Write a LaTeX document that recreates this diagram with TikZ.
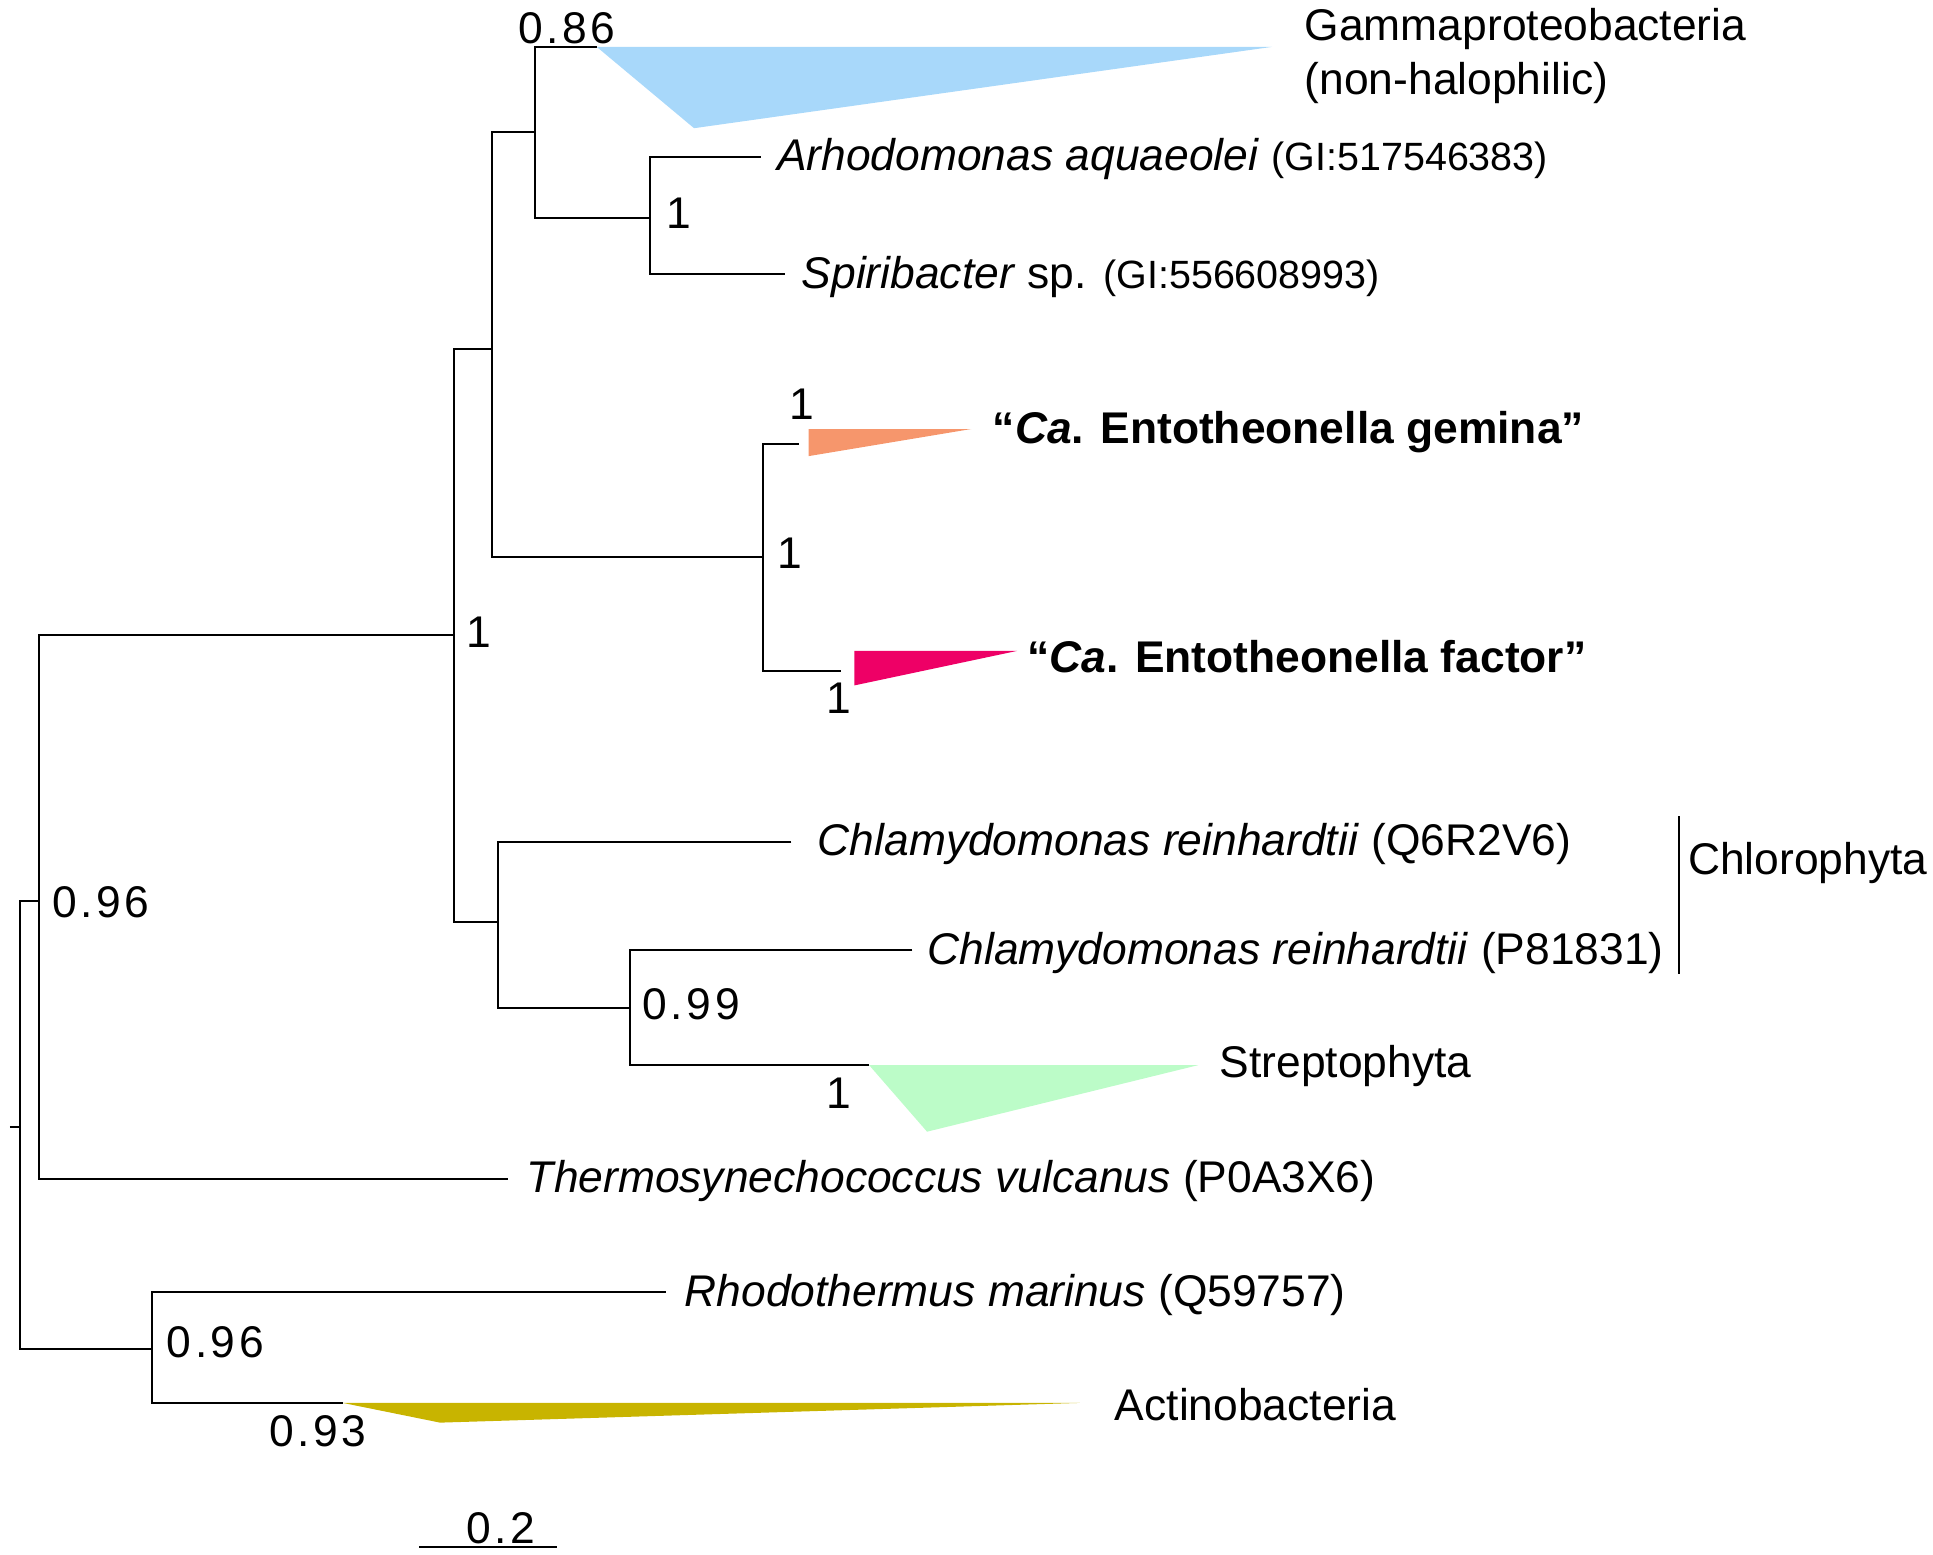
\documentclass[tikz,border=0pt]{standalone}
\usepackage{fontspec}
\setmainfont{Liberation Sans}
\newfontfamily\numfont[LetterSpace=8]{Liberation Sans}
\definecolor{gammablue}{RGB}{168,216,250}
\definecolor{gemorange}{RGB}{246,150,108}
\definecolor{facmagenta}{RGB}{238,0,102}
\definecolor{strepgreen}{RGB}{188,252,200}
\definecolor{actolive}{RGB}{200,180,0}
\begin{document}
\begin{tikzpicture}[x=0.5pt,y=-0.5pt,
  branch/.style={line width=0.8pt},
  lab/.style={anchor=west,inner sep=0pt,yshift=-1.2pt,font=\fontsize{18}{22}\selectfont},
  num/.style={anchor=west,inner sep=0pt,font=\fontsize{18}{22}\selectfont\numfont}]
\useasboundingbox (0,0) rectangle (1568,1261);
% tree coordinates
\coordinate (r0) at (8,914);
\coordinate (r) at (16,914);
\coordinate (A) at (32,731);
\coordinate (I) at (123,1094);
\coordinate (B) at (368,515);
\coordinate (T) at (412,956);
\coordinate (C) at (399,283);
\coordinate (G) at (404,748);
\coordinate (D) at (434,107);
\coordinate (F) at (619,452);
\coordinate (gam) at (484,38);
\coordinate (E) at (527,177);
\coordinate (arho) at (617,127);
\coordinate (spir) at (637,222);
\coordinate (gem) at (648,360);
\coordinate (fac) at (682,544);
\coordinate (chlQ) at (642,683);
\coordinate (H) at (511,818);
\coordinate (chlP) at (740,771);
\coordinate (strep) at (705,864);
\coordinate (rho) at (540,1048);
\coordinate (act) at (278,1138);
% collapsed clades
\fill[gammablue] (gam) -- (1032,38) -- (563,104) -- cycle;
\fill[gemorange] (656,348) -- (788,348) -- (656,370) -- cycle;
\fill[facmagenta] (693,528) -- (825,528) -- (693,556) -- cycle;
\fill[strepgreen] (strep) -- (972,864) -- (752,918) -- cycle;
\fill[actolive] (act) -- (876,1138) -- (357,1154) -- cycle;
% branches
\draw[branch] (r0) -- (r);
\draw[branch] (A) -| (r) |- (I);
\draw[branch] (B) -| (A) |- (T);
\draw[branch] (rho) -| (I) |- (act);
\draw[branch] (C) -| (B) |- (G);
\draw[branch] (D) -| (C) |- (F);
\draw[branch] (gam) -| (D) |- (E);
\draw[branch] (arho) -| (E) |- (spir);
\draw[branch] (gem) -| (F) |- (fac);
\draw[branch] (chlQ) -| (G) |- (H);
\draw[branch] (chlP) -| (H) |- (strep);
% support values
\node[num] (s086) at (420,23) {0.86};
\node[num] (sE) at (540,173) {1};
\node[num] (sGem) at (640,328) {1};
\node[num] (sF) at (630,449) {1};
\node[num] (sB) at (378,513) {1};
\node[num] (sFac) at (670,566) {1};
\node[num] (s099) at (521,815) {0.99};
\node[num] (sStrep) at (670,887) {1};
\node[num] (sA) at (42,732) {0.96};
\node[num] (sI) at (135,1089) {0.96};
\node[num] (s093) at (218,1161) {0.93};
% taxon labels
\node[lab,anchor=north west,align=left] (gamtxt) at (1058,4) {Gammaproteobacteria\\(non-halophilic)};
\node[lab] (arhotxt) at (630,127) {\textit{Arhodomonas aquaeolei} {\fontsize{16}{20}\selectfont(GI:517546383)}};
\node[lab] (spirtxt) at (650,222) {\textit{Spiribacter} sp. {\fontsize{16}{20}\selectfont(GI:556608993)}};
\node[lab] (gemtxt) at (805,348) {\bfseries “\textit{Ca}. Entotheonella gemina”};
\node[lab] (factxt) at (833,530) {\bfseries “\textit{Ca}. Entotheonella factor”};
\node[lab] (chlQtxt) at (663,682) {\textit{Chlamydomonas reinhardtii} (Q6R2V6)};
\node[lab] (chlPtxt) at (752,771) {\textit{Chlamydomonas reinhardtii} (P81831)};
\node[lab] (streptxt) at (989,862) {Streptophyta};
\node[lab] (thermtxt) at (427,956) {\textit{Thermosynechococcus vulcanus} (P0A3X6)};
\node[lab] (rhotxt) at (555,1048) {\textit{Rhodothermus marinus} (Q59757)};
\node[lab] (acttxt) at (904,1137) {Actinobacteria};
% Chlorophyta bracket
\coordinate (chl1) at (1362,662);
\coordinate (chl2) at (1362,790);
\draw[line width=0.6pt] (chl1) -- (chl2);
\node[lab] (chltxt) at (1369,698) {Chlorophyta};
% scale bar
\coordinate (sb1) at (340,1255);
\coordinate (sb2) at (452,1255);
\draw[branch] (sb1) -- (sb2);
\node[num,anchor=center] (sbtxt) at (406,1240) {0.2};
\end{tikzpicture}
\end{document}
